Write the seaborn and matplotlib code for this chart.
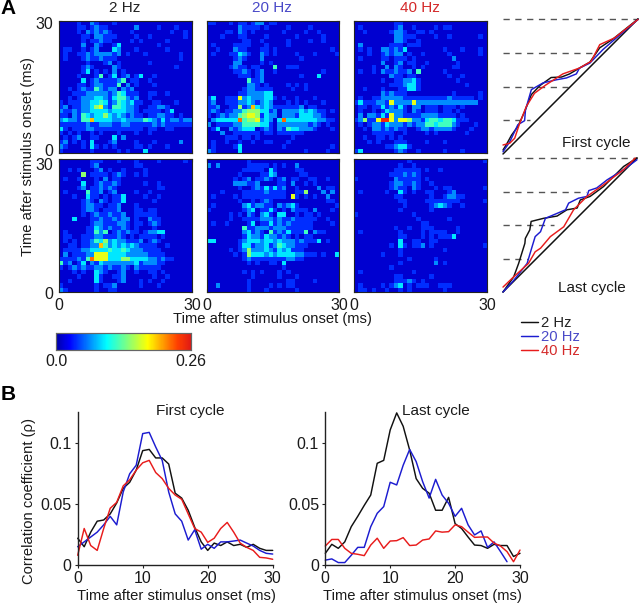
import numpy as np
import pandas as pd
import matplotlib
matplotlib.use("Agg")
import matplotlib.pyplot as plt
from matplotlib.colors import LinearSegmentedColormap
from matplotlib.lines import Line2D
from matplotlib.transforms import ScaledTranslation
import seaborn as sns

sns.set_style("white")
plt.rcParams['font.family'] = ['Liberation Sans', 'DejaVu Sans']

# heat-map cells, top row first, one digit per cell (d -> (d + 0.5) / 10 * 0.26)
first_2hz = """
0000100210 0010000000 0000000000
0000110121 1000000200 0010001000
0000102121 2100001000 0000010010
0000011022 1110000100 1000000010
0000010112 1100001010 0000100000
0000020021 0013000000 0010000000
0110010120 0032000100 0000100000
0100112122 2212010001 0000000100
0100012112 1110000000 0000000100
0000001000 1201000000 1000000000
0000012100 0021000000 0000001000
0000013010 1020100000 0000000000
0000100014 0130120130 0100000000
0000030121 1112401100 1000000000
0000110122 1114020100 0100000000
0010121142 1220212000 0000000000
0001112222 2124311100 1100100000
0010122233 2134421200 1000000000
1011122334 3124323110 0110001000
1201122356 2144322100 1122100000
2112122333 3233322101 1110130000
1102143233 5323212110 1122110100
2322144733 3322322224 3213122122
1111112112 2211221111 1212111111
3101112211 1111111110 1100110000
1010100101 0001000100 1000000000
0101200110 0030200000 0000000000
1201010300 0120000100 0100000200
2100010310 1010000110 1000100000
1000000100 0001010003 0000000000
"""
first_20hz = """
1100010110 1220110000 0000000000
0000000211 1101000010 0001000000
0000110210 1000000100 0010010000
0001000110 0001000000 1000001000
0000000011 0010000010 0001001000
0100001111 0001000010 0000000000
0010002110 0011010000 0000000010
0100011321 0021010000 1000100001
0000001210 0020000000 0100000000
0000002200 0010100000 0000000000
0000012110 1100040011 1000000000
0000001121 0120010000 0000001000
0000000111 0120000000 0100030000
0000000004 1120000000 0000000000
0000000002 2101000010 1010000000
0000000012 2111100001 0010000000
0000000112 2223300000 0000000000
1300111623 2223310100 1000100000
1200111223 2123200010 1010001000
1120011512 7323211111 1201100000
1210112245 5533120222 2323211010
1012122456 6513220222 1333221000
0233333845 5623203833 3333322110
2011112244 4433102222 2221210100
0130021233 3012102143 3222100010
0002001111 1101101111 1100000000
0000111011 0100000001 0000000000
0100100100 1001100010 0000000000
0100001300 0000000100 0000000010
2100000300 0000000000 0010000100
"""
first_40hz = """
0000000001 1000000000 0000000000
0100000001 2001000010 1100000000
0010000012 2100110100 0000000000
0000000002 2111000010 0100000010
0000000002 2100100000 0000000000
0200000011 1011100000 0000000000
0101002212 1300000000 1000100010
0001001212 2010010000 0100000010
0100001101 1101000000 0020000000
0000002001 2011001000 0001000000
0000100202 1001010000 0011000000
0100102112 1120400000 1000000000
0000000021 1011000000 0100100000
0000001001 1223100000 0001000000
0000000011 1233100000 0000010000
0010001000 1133100000 0000000000
0000002121 1100000000 0010000010
0100112222 2111111111 1211111010
1311122162 2226222222 2222222200
0110113121 3102201110 1110100000
0100101322 2102101110 1101000000
0202213162 2111122221 1110100000
1251169962 6652213443 4431110000
0101221322 2121224434 4421000100
0010221212 1100122122 2210001000
0000111110 0100001010 0000010000
0010011010 1000000000 0000000000
0001010001 1100001000 1000000000
0000000112 3310000000 0000000000
1300000001 2100100000 1000100000
"""
last_2hz = """
0000000111 0001000100 0010000010
0000000120 0000000110 0000000000
0010100012 0100100001 0000000000
0000050111 1012100101 0000000000
0100100010 2011000000 0000000000
0000030012 1121000001 0010000000
0000120112 1210000000 0011000000
0100004112 0120000100 1000000000
0001003110 1011300001 0010000000
0000012102 1011300000 0100000000
0000012211 0112000100 0000000000
0000012210 1112000110 1100000000
0000010121 1211200111 1100000000
0003000112 1121220100 2110000000
0000000122 1112210110 1210000000
0000001132 1211210100 0100000000
0100001142 4012121101 2233000000
0110011122 1112101011 1101000000
0101011243 5232211120 1210000000
0011011227 4232323211 1100100000
0111122333 3433432221 1110000000
0201112266 6333322222 1111000000
1111214866 6333553333 2212110000
4120130213 2222222312 2211000000
1012121122 1211210211 1110000000
0001010032 1001200100 1101000000
0000100031 0011200000 0100100000
0010000031 0001200010 1001000000
1000000010 1120000010 0010000000
2100000010 0110000000 0000000000
"""
last_20hz = """
0000000001 0000000000 0000000000
2020000001 1111010100 2000000000
0000000011 1110310000 1100000000
0000000100 0011320000 0110000000
0000001012 0112101201 1001100100
0000002221 1200001102 0010100000
0000000100 1213131200 1000020110
0001000011 1112111100 1150002020
0100001011 1111111106 1010100200
0000000100 1012100000 0000000110
0100000023 1221102123 1000000001
1000000012 3011310102 1110200010
0000010102 1023103300 1011010000
0000010011 1122212112 1111100100
0100100001 3011312121 1111000010
0000000041 1222122211 1111000000
0000000023 1210412131 1140211000
0000000013 2213221210 1011000000
3300000123 3323323222 1211130100
0000000133 1223124322 1110000000
0000010125 2223213231 1100000000
0000001015 3332323333 2211101003
0000000012 1111111122 1100000000
0000000001 0100110300 0000000000
0000000000 0000000100 0000000000
0000000010 1010001010 0000000000
0000000000 1000001000 1000000000
0000000001 0000000011 0000100000
0020000001 0000101011 0000000000
0000000001 0001000000 1000000000
"""
last_40hz = """
0000000000 0010000000 0000000001
0000000000 1001000000 0000000000
0000000001 1111101001 0000000000
0000000011 1212100000 0000000000
1000000002 1111101000 0000000000
0000000012 2112100100 0000000000
0000000012 1102100010 1100000001
0100000100 3101001100 0120000000
0000000001 1000000100 1221100000
0000000000 1100001111 1111000001
0000000000 0100000123 2100100000
0000000000 1000000100 0000000000
1000000000 0001000000 0000000000
0000000000 0000100000 0100000000
0000000000 0000011000 0000000000
0000000001 0010011100 0001000000
0100000000 1000010111 1001000000
0000000000 1100010101 1130000000
0000000000 3001100110 0000000000
0000000010 3101120100 0000000001
0000000000 1000000000 1000000000
0000001000 1000000000 0000000000
0000000000 0010000010 0000000000
0000000000 1000000020 1000000000
0000000010 0000000000 0000000000
0100000000 0001000000 0000000000
0000000001 1000000100 0000000000
0000000001 1121010000 0000000000
0100001012 3010111001 1100000000
0110100100 1010000000 1000000000
"""

# scatter-summary curves (x, y pairs in ms)
sum_first_2_x = [0, .7, 1.9, 3.3, 4.8, 6.3, 8.2, 10.7, 13, 14.8, 17, 19.3, 21.5, 24.5, 30]
sum_first_2_y = [.9, 2, 4.2, 6.1, 9.4, 13.2, 15.2, 17, 17.1, 17.8, 19.1, 20.4, 23.6, 25.6, 30]
sum_first_20_x = [0, 1.5, 3.3, 4.8, 5, 6.3, 8.9, 11.9, 14.1, 16.3, 17, 19.3, 22.2, 25.2, 30]
sum_first_20_y = [.5, 2.7, 6.5, 7.4, 9.8, 14.3, 15.8, 16.5, 16.9, 17.8, 19.1, 20.2, 23.2, 25.8, 29.9]
sum_first_40_x = [0, 1.5, 2.6, 3.7, 5.2, 7, 9.6, 13.3, 17, 19.6, 21.5, 24.8, 30]
sum_first_40_y = [2, 2.4, 3.5, 6.8, 10.6, 13.5, 15.4, 17.8, 19.1, 20.6, 24.3, 25.8, 29.9]
sum_last_2_x = [0, 2.4, 3.5, 4.9, 5, 6, 6.3, 9.1, 12.1, 14.3, 16.6, 17.3, 19.5, 22.5, 27, 30]
sum_last_2_y = [0, 3.4, 6.4, 10.9, 12, 13.9, 15.8, 16.5, 17, 18.4, 18.8, 20.6, 21.4, 23.6, 28.1, 30]
sum_last_20_x = [0, 2.4, 5.4, 6.5, 7.2, 8.4, 9.5, 12.1, 14, 14.7, 16.9, 18.8, 19.2, 21, 23.3, 27, 30]
sum_last_20_y = [0, 2.6, 6.4, 10.1, 12.4, 13.5, 16.5, 17.6, 18.4, 19.9, 21, 21.4, 22.7, 23.3, 25.1, 27.4, 29.6]
sum_last_40_x = [0, 2.4, 5.7, 7.2, 8.4, 10.6, 13.6, 15.8, 18.8, 22.5, 27, 29.6]
sum_last_40_y = [1.1, 3.4, 6.4, 9, 9.8, 12.4, 14.6, 18.4, 21.4, 24, 27.4, 30]
diag_vals = [0, 30]
dash_levels = [30, 22.5, 15, 7.5]
dash_ends_first = [30, 20, 14.4, 6]
dash_ends_last = [30, 18.5, 11.5, 5.6]

# correlation coefficient by time
rho_first_2 = [.022, .015, .027, .036, .037, .042, .051, .063, .068, .078, .094, .095, .088, .088, .083, .059, .055, .045, .031, .019, .012, .018, .016, .019, .016, .017, .0145, .017, .0137, .012, .012]
rho_first_20 = [.015, .019, .023, .027, .033, .040, .033, .060, .075, .082, .108, .109, .097, .086, .060, .042, .036, .0205, .029, .013, .017, .0137, .019, .019, .0197, .0205, .018, .0156, .012, .0096, .009]
rho_first_40 = [.008, .030, .016, .012, .030, .0466, .0515, .065, .070, .078, .084, .086, .076, .071, .063, .0575, .054, .042, .030, .027, .0186, .022, .030, .035, .027, .018, .0145, .012, .0063, .0058, .0047]
rho_last_2 = [.0096, .017, .0137, .019, .0315, .040, .049, .0575, .0836, .086, .111, .125, .114, .0945, .071, .063, .059, .045, .045, .0556, .034, .030, .023, .0164, .016, .0137, .017, .016, .016, .007, .0096]
rho_last_20 = [.004, .005, .002, .002, .008, .0145, .0145, .0315, .0425, .048, .068, .0658, .082, .095, .085, .0685, .055, .0704, .0575, .0507, .040, .0466, .033, .0247, .028, .0145, .019, .011, .0027]
rho_last_40 = [.0156, .021, .021, .0137, .0096, .0088, .0077, .0164, .022, .0137, .0197, .020, .0225, .016, .0164, .0205, .0214, .028, .027, .0274, .033, .0315, .027, .0227, .023, .023, .018, .0156, .011, .0027, .0123]

freq_labels = ["2 Hz", "20 Hz", "40 Hz"]
line_colors = ["#111111", "#1c1cd0", "#e81c1c"]
title_colors = ["#222222", "#4a4ac8", "#d42a2a"]
cmax = 0.26
map_stops = [(0.0, (0, 0, 0.65)), (0.10, (0, 0, 1)), (0.375, (0, 1, 1)),
             (0.68, (1, 1, 0)), (0.90, (1, 0.25, 0)), (1.0, (0.88, 0.1, 0.08))]
heat_cmap = LinearSegmentedColormap.from_list("heat", map_stops)

W, H = 640, 604
fig = plt.figure(figsize=(W / 100, H / 100), dpi=100)
FS = 10.6
TICK_FS = 11.5


def axpx(x0, y0, x1, y1):
    return fig.add_axes([x0 / W, 1 - y1 / H, (x1 - x0) / W, (y1 - y0) / H])


def txt(x, y, s, **kw):
    kw.setdefault("fontsize", FS)
    kw.setdefault("ha", "center")
    kw.setdefault("va", "center")
    kw.setdefault("color", "#1a1a1a")
    return fig.text(x / W, 1 - y / H, s, **kw)


def parse(block):
    rows = [r.replace(" ", "") for r in block.strip().splitlines()]
    return (np.array([[int(c) for c in r] for r in rows]) + 0.5) / 10 * cmax


def nudge(label, dy_px):
    label.set_transform(label.get_transform() + ScaledTranslation(0, dy_px / 100, fig.dpi_scale_trans))


cax = axpx(56, 333, 191, 350)
grids = [first_2hz, first_20hz, first_40hz, last_2hz, last_20hz, last_40hz]
boxes = [(59, 21, 192, 153), (207, 21, 339, 153), (354, 21, 487, 153),
         (59, 159, 192, 292), (207, 159, 339, 292), (354, 159, 487, 292)]
for i, (g, b) in enumerate(zip(grids, boxes)):
    ax = axpx(*b)
    first = i == 0
    sns.heatmap(parse(g), ax=ax, cmap=heat_cmap, vmin=0, vmax=cmax, square=False,
                cbar=first, cbar_ax=cax if first else None,
                cbar_kws={"orientation": "horizontal"} if first else None,
                xticklabels=False, yticklabels=False)
    ax.set_xticks([0, 10, 20, 30])
    ax.set_yticks([0, 10, 20, 30])
    ax.set_xticklabels(["0", "", "", "30"] if i >= 3 else [])
    ax.set_yticklabels(["30", "", "", "0"] if i in (0, 3) else [])
    ax.tick_params(direction="in", length=2, width=0.8, color="#111111", top=True, right=True,
                   bottom=True, left=True, labelsize=TICK_FS, pad=4, labelcolor="#1a1a1a")
    if i in (0, 3):
        labs = ax.get_yticklabels()
        nudge(labs[0], -2 if i == 0 else -5)
        nudge(labs[3], 3 if i == 0 else -1)
    for s in ax.spines.values():
        s.set_visible(True)
        s.set_linewidth(0.8)
        s.set_color("#222222")

cax.set_xticks([0, cmax])
cax.set_xticklabels(["0.0", "0.26"], fontsize=TICK_FS, color="#1a1a1a")
cax.tick_params(length=0, pad=3)
for s in cax.spines.values():
    s.set_visible(True)
    s.set_linewidth(0.8)
    s.set_color("#666666")

for x, lab, c in zip([125, 272, 420], freq_labels, title_colors):
    txt(x, 8, lab, color=c, fontsize=11)

txt(28, 157, "Time after stimulus onset (ms)", rotation=90)
txt(272, 319, "Time after stimulus onset (ms)")
txt(8, 8, "A", fontsize=15, fontweight="bold", color="black")
txt(8, 394, "B", fontsize=15, fontweight="bold", color="black")


def summary(box, curves, ends):
    ax = axpx(*box)
    ax.set_xlim(0, 30)
    ax.set_ylim(0, 30)
    ax.axis("off")
    for lev, e in zip(dash_levels, ends):
        ax.plot([0, e], [lev, lev], color="#555555", lw=1, dashes=(4.5, 4), clip_on=False)
    sns.lineplot(x=diag_vals, y=diag_vals, ax=ax, color="#111111", lw=1.1, sort=False,
                 estimator=None, errorbar=None, legend=False, clip_on=False)
    for (xs, ys), c in zip(curves, line_colors):
        sns.lineplot(x=xs, y=ys, ax=ax, color=c, lw=1.05, sort=False, estimator=None,
                     errorbar=None, legend=False, clip_on=False)


summary((503, 19, 638, 154),
        [(sum_first_2_x, sum_first_2_y), (sum_first_20_x, sum_first_20_y), (sum_first_40_x, sum_first_40_y)],
        dash_ends_first)
summary((503, 158, 637, 292),
        [(sum_last_2_x, sum_last_2_y), (sum_last_20_x, sum_last_20_y), (sum_last_40_x, sum_last_40_y)],
        dash_ends_last)
txt(596, 143, "First cycle", fontsize=11)
txt(592, 288, "Last cycle", fontsize=11)

handles = [Line2D([], [], color=c, lw=1.05) for c in line_colors]
fig.legend(handles, freq_labels, loc="upper left", bbox_to_anchor=(521 / W, 1 - 316 / H), frameon=False,
           fontsize=FS, labelcolor=title_colors, handlelength=1.17, handletextpad=0.2,
           labelspacing=0.0, borderpad=0, borderaxespad=0)


def rho_panel(box, series):
    ax = axpx(*box)
    for vals, c in zip(series, line_colors):
        t = np.arange(len(vals))
        df = pd.DataFrame({"t": t, "rho": vals})
        sns.lineplot(data=df, x="t", y="rho", ax=ax, color=c, lw=1.05, estimator=None,
                     errorbar=None, legend=False, clip_on=False)
    ax.set_xlim(0, 30)
    ax.set_ylim(0, 0.126)
    ax.set_xticks([0, 10, 20, 30])
    ax.set_yticks([0, 0.05, 0.1])
    ax.set_yticklabels(["0", "0.05", "0.1"])
    ax.set_xlabel("")
    ax.set_ylabel("")
    ax.tick_params(direction="out", length=2.5, width=0.8, color="#222222", bottom=True, left=True,
                   labelsize=TICK_FS, pad=2, labelcolor="#1a1a1a")
    sns.despine(ax=ax)
    for s in ("left", "bottom"):
        ax.spines[s].set_linewidth(1.0)
        ax.spines[s].set_color("#222222")


rho_panel((77.7, 411.7, 272.7, 565), [rho_first_2, rho_first_20, rho_first_40])
rho_panel((325.3, 411.7, 520, 565), [rho_last_2, rho_last_20, rho_last_40])
txt(190, 411, "First cycle", fontsize=11)
txt(436, 411, "Last cycle", fontsize=11)
txt(176.5, 596, "Time after stimulus onset (ms)")
txt(422, 596, "Time after stimulus onset (ms)")
txt(29, 501, "Correlation coefficient (ρ)", rotation=90)

fig.savefig("out.png", dpi=100)
